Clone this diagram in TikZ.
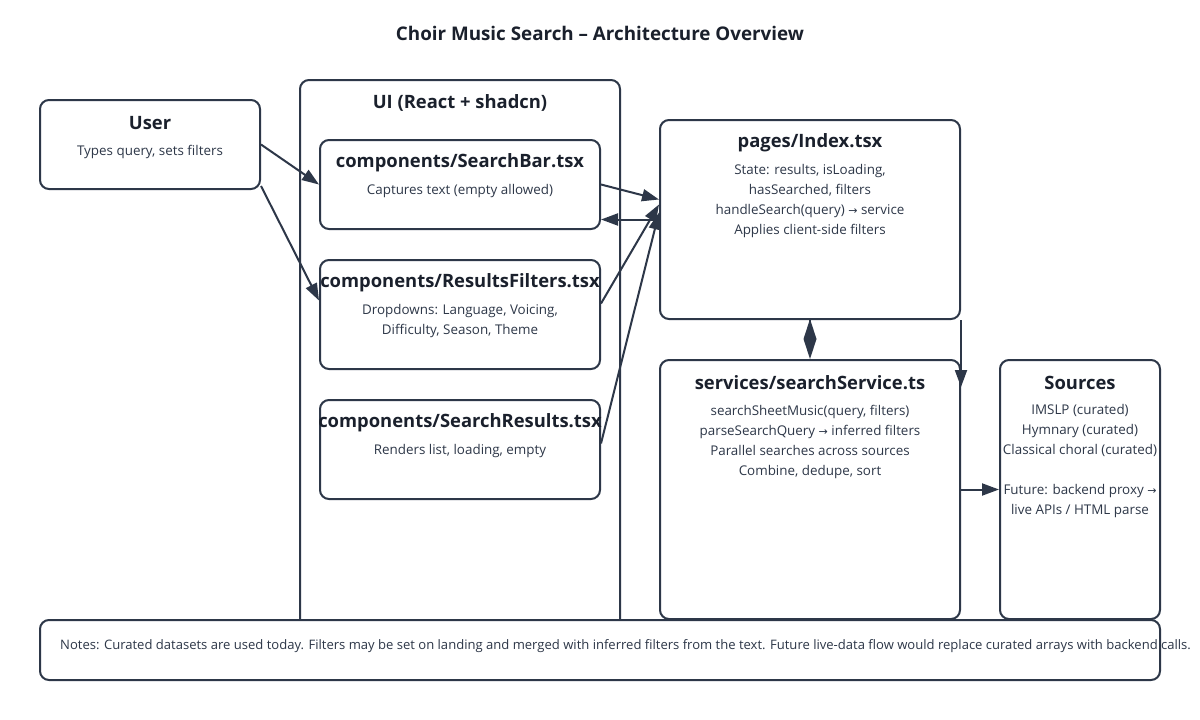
\documentclass[tikz,border=0pt]{standalone}
\usepackage{fontspec}
\setmainfont{Open Sans}
\newfontfamily\symf{DejaVu Sans}
\usetikzlibrary{arrows.meta}
\definecolor{stroke}{HTML}{2D3748}
\definecolor{ink}{HTML}{1A202C}
\definecolor{subc}{HTML}{2D3748}
\newcommand{\rarr}{{\symf\fontsize{11}{20}\selectfont →}}
\begin{document}
\begin{tikzpicture}[x=1pt,y=-1pt,
  box/.style={draw=stroke, line width=2pt, rounded corners=9pt, fill=white, inner sep=0pt},
  ttl/.style={font=\bfseries\fontsize{18.4}{22}\selectfont, text=ink, inner sep=0pt},
  txt/.style={font=\fontsize{13.4}{20}\selectfont, text=subc, align=center, inner sep=0pt},
  arr/.style={draw=stroke, line width=2pt, -{Triangle[length=17pt,width=12pt]}},
]
\useasboundingbox (0,0) rectangle (1200,720);
\fill[white] (0,0) rectangle (1200,720);

\node[font=\bfseries\fontsize{18.8}{22}\selectfont, text=ink, inner sep=0pt] (title) at (600,33) {Choir Music Search – Architecture Overview};

% UI container
\node[box, minimum width=320pt, minimum height=560pt] (ui) at (460,360) {};
\node[ttl] (uiT) at (460,103) {UI (React + shadcn)};

% User
\node[box, minimum width=220pt, minimum height=89pt] (user) at (150,144.5) {};
\node[ttl] (userT) at (150,123) {User};
\node[txt] (userS) at (150,151.5) {Types query, sets filters};

% SearchBar
\node[box, minimum width=280pt, minimum height=89pt] (sb) at (460,184.5) {};
\node[ttl] (sbT) at (460,163) {components/SearchBar.tsx};
\node[txt] (sbS) at (460,191.5) {Captures text (empty allowed)};

% ResultsFilters
\node[box, minimum width=280pt, minimum height=109pt] (rf) at (460,314.5) {};
\node[ttl] (rfT) at (460,283) {components/ResultsFilters.tsx};
\node[txt] (rfS) at (460,321.5) {Dropdowns: Language, Voicing,\\Difficulty, Season, Theme};

% SearchResults
\node[box, minimum width=280pt, minimum height=99pt] (sr) at (460,449.5) {};
\node[ttl] (srT) at (460,423) {components/SearchResults.tsx};
\node[txt] (srS) at (460,451.5) {Renders list, loading, empty};

% Index
\node[box, minimum width=300pt, minimum height=199pt] (idx) at (810,219.5) {};
\node[ttl] (idxT) at (810,143) {pages/Index.tsx};
\node[txt] (idxS) at (810,201.5) {State: results, isLoading,\\hasSearched, filters\\handleSearch(query) \rarr{} service\\Applies client-side filters};

% Service
\node[box, minimum width=300pt, minimum height=259pt] (svc) at (810,489.5) {};
\node[ttl] (svcT) at (810,383) {services/searchService.ts};
\node[txt] (svcS) at (810,441.5) {searchSheetMusic(query, filters)\\parseSearchQuery \rarr{} inferred filters\\Parallel searches across sources\\Combine, dedupe, sort};

% Sources
\node[box, minimum width=160pt, minimum height=259pt] (src) at (1080,489.5) {};
\node[ttl] (srcT) at (1080,383) {Sources};
\node[txt] (srcS) at (1080,461.5) {IMSLP (curated)\\Hymnary (curated)\\Classical choral (curated)\\[20pt]Future: backend proxy \rarr\\live APIs / HTML parse};

% Notes
\node[box, minimum width=1120pt, minimum height=60pt] (notes) at (600,650) {};
\node[txt, font=\fontsize{13.05}{20}\selectfont, anchor=west] (notesT) at (60,646.5) {Notes: Curated datasets are used today. Filters may be set on landing and merged with inferred filters from the text. Future live-data flow would replace curated arrays with backend calls.};

% connectors
\draw[arr] (user.east) -- (sb.west);
\draw[arr] ([yshift=4pt]user.south east) -- ([yshift=14pt]rf.west);
\draw[arr] (sb.east) -- ([yshift=20pt]idx.west);
\draw[arr] (idx.west) -- (idx.west -| sb.east);
\draw[arr] ([yshift=11pt]rf.east) -- ([yshift=15pt]idx.west);
\draw[arr] ([yshift=6pt]sr.east) -- ([yshift=7pt]idx.west);
\draw[draw=stroke, line width=2pt, -{Diamond[length=40pt,width=13pt]}] (idx.south) -- (svc.north);
\draw[arr] (idx.south east) -- ([yshift=-28pt]svc.north east);
\draw[arr] (svc.east) -- (src.west);
\end{tikzpicture}
\end{document}
